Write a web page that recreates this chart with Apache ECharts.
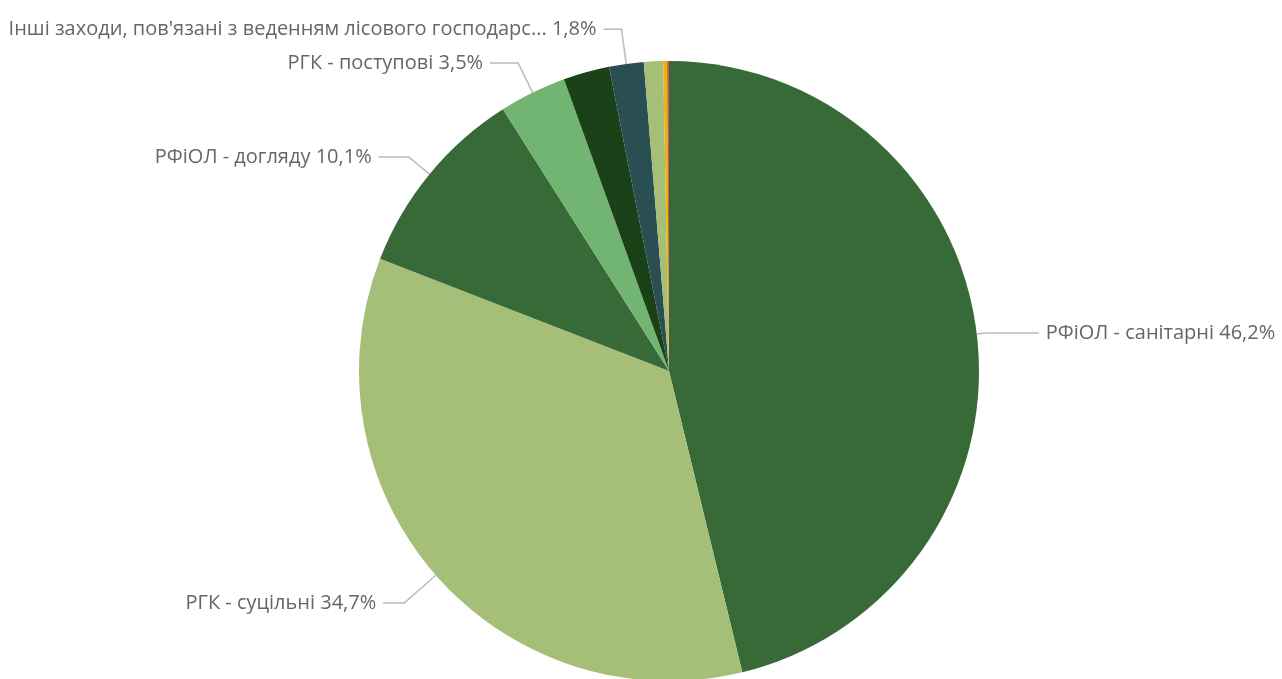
<!DOCTYPE html>
<html>
<head>
<meta charset="utf-8">
<title>Структура заходів</title>
<script src="https://cdn.jsdelivr.net/npm/echarts@6/dist/echarts.min.js"></script>
<style>
  html, body { margin: 0; padding: 0; background: #ffffff; }
  #chart { width: 1282px; height: 679px; }
</style>
</head>
<body>
<div id="chart"></div>
<script>
// Categories in drawing order (clockwise from 12 o'clock)
const categories = [
  'РФіОЛ - санітарні',
  'РГК - суцільні',
  'РФіОЛ - догляду',
  'РГК - поступові',
  'РГК - вибіркові',
  "Інші заходи, пов'язані з веденням лісового господарства",
  'РФіОЛ - реконструктивні',
  'РФіОЛ - ландшафтні',
  'Лісовідновні рубки'
];
// Share of each category, %
const values = [46.2, 34.7, 10.1, 3.5, 2.4, 1.8, 1.0, 0.2, 0.1];
const colors = ['#386a37', '#a6bf78', '#386a37', '#72b472', '#1b4118', '#2a4f52', '#a6bf78', '#e8b707', '#d9534f'];
// Which slices carry a data label, with leader line lengths [radial, horizontal]
const labelled = [true, true, true, true, false, true, false, false, false];
const leader = [[10, 52], [42, 21], [27, 30], [33, 28], [0, 0], [35, 18], [0, 0], [0, 0], [0, 0]];

const maxNameLen = 52;
function shortName(name) {
  return name.length > maxNameLen ? name.slice(0, maxNameLen).trimEnd() + '...' : name;
}

const data = categories.map((name, i) => ({
  name: name,
  value: values[i],
  itemStyle: { color: colors[i] },
  label: { show: labelled[i] },
  labelLine: { show: labelled[i], length: leader[i][0], length2: leader[i][1] }
}));

const chart = echarts.init(document.getElementById('chart'), null, { renderer: 'canvas' });
chart.setOption({
  animation: false,
  series: [{
    type: 'pie',
    center: [669, 371],
    radius: 310,
    startAngle: 90,
    clockwise: true,
    avoidLabelOverlap: false,
    itemStyle: { borderWidth: 0 },
    label: {
      show: true,
      position: 'outside',
      alignTo: 'none',
      distanceToLabelLine: 7,
      color: '#666666',
      fontFamily: 'Open Sans',
      fontSize: 20,
      formatter: p => shortName(p.name) + ' ' + p.value.toFixed(1).replace('.', ',') + '%'
    },
    labelLine: {
      show: true,
      smooth: false,
      minTurnAngle: 0,
      lineStyle: { color: '#bcbab8', width: 1.5 }
    },
    emphasis: { disabled: true },
    data: data
  }]
});
</script>
</body>
</html>
